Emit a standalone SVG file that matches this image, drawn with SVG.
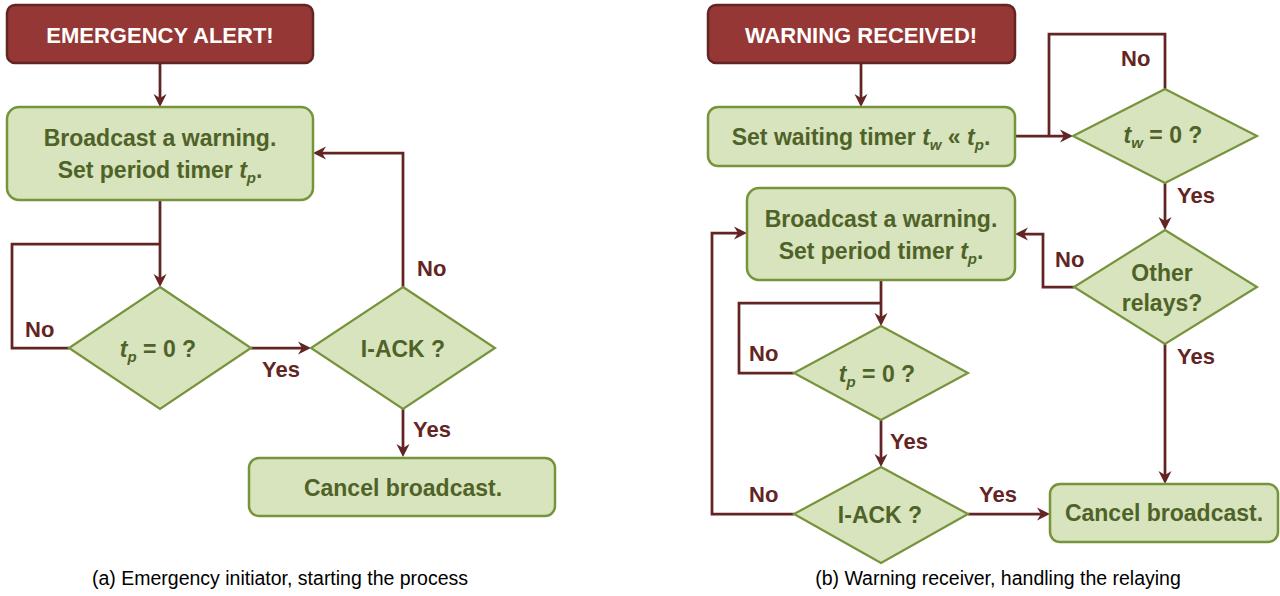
<svg xmlns="http://www.w3.org/2000/svg" width="1280" height="596" viewBox="0 0 1280 596">
<style>
.hdr{fill:#953735;stroke:#632523;stroke-width:2.5}
.box{fill:#d7e4bd;stroke:#77933c;stroke-width:2.5}
.dia{fill:#d7e4bd;stroke:#77933c;stroke-width:2.2}
.ht{font-family:"Liberation Sans",Arial,sans-serif;font-weight:bold;font-size:22px;fill:#ffffff;text-anchor:middle}
.bt{font-family:"Liberation Sans",Arial,sans-serif;font-weight:bold;font-size:23px;fill:#4f6228;text-anchor:middle}
.lb{font-family:"Liberation Sans",Arial,sans-serif;font-weight:bold;font-size:22px;fill:#632523}
.cap{font-family:"Liberation Sans",Arial,sans-serif;font-size:19.5px;fill:#000000;text-anchor:middle}
.it{font-style:italic}
.sub{font-style:italic;font-size:15px}
.con{fill:none;stroke:#632523;stroke-width:2.75}
</style>
<defs>
<marker id="ah" markerUnits="userSpaceOnUse" markerWidth="16" markerHeight="16" refX="9" refY="6.5" orient="auto" overflow="visible">
<path d="M0,0 L13,6.5 L0,13 L4,6.5 z" fill="#632523"/>
</marker>
</defs>

<g id="connectors">
<path class="con" marker-end="url(#ah)" d="M160,63 L160,103"/>
<path class="con" marker-end="url(#ah)" d="M160,200 L160,283"/>
<path class="con" d="M69,348 L12,348 L12,244 L160,244"/>
<path class="con" marker-end="url(#ah)" d="M251,348 L307,348"/>
<path class="con" marker-end="url(#ah)" d="M403,287 L403,153 L317,153"/>
<path class="con" marker-end="url(#ah)" d="M403,409 L403,453"/>

<path class="con" marker-end="url(#ah)" d="M861,63 L861,103"/>
<path class="con" marker-end="url(#ah)" d="M1015,136 L1069,136"/>
<path class="con" d="M1165,89 L1165,34 L1049,34 L1049,136"/>
<path class="con" marker-end="url(#ah)" d="M1165,183 L1165,226"/>
<path class="con" marker-end="url(#ah)" d="M1074,287 L1043,287 L1043,234 L1019,234"/>
<path class="con" marker-end="url(#ah)" d="M1165,344 L1165,480"/>
<path class="con" marker-end="url(#ah)" d="M881,280 L881,322"/>
<path class="con" d="M794,373 L739,373 L739,303 L881,303"/>
<path class="con" marker-end="url(#ah)" d="M881,420 L881,463"/>
<path class="con" marker-end="url(#ah)" d="M794,514 L712,514 L712,233 L743,233"/>
<path class="con" marker-end="url(#ah)" d="M968,514 L1046,514"/>
</g>

<g id="labels">
<text class="lb" x="25" y="337">No</text>
<text class="lb" x="262" y="377">Yes</text>
<text class="lb" x="417" y="276">No</text>
<text class="lb" x="413" y="437">Yes</text>
<text class="lb" x="1121" y="66">No</text>
<text class="lb" x="1177" y="203">Yes</text>
<text class="lb" x="1055" y="267">No</text>
<text class="lb" x="1177" y="364">Yes</text>
<text class="lb" x="749" y="361">No</text>
<text class="lb" x="890" y="449">Yes</text>
<text class="lb" x="749" y="502">No</text>
<text class="lb" x="979" y="502">Yes</text>
</g>

<g id="emergency-alert">
<rect class="hdr" x="7" y="5" width="306" height="58" rx="8"/>
<text class="ht" x="160" y="43">EMERGENCY ALERT!</text>
</g>
<g id="broadcast-a">
<rect class="box" x="7" y="107" width="306" height="93" rx="12"/>
<text class="bt" x="160" y="146">Broadcast a warning.</text>
<text class="bt" x="160" y="178">Set period timer <tspan class="it">t</tspan><tspan class="sub" dy="5">p</tspan><tspan dy="-5">.</tspan></text>
</g>
<g id="tp-check-a">
<polygon class="dia" points="160,287 251,348 160,409 69,348"/>
<text class="bt" x="158" y="357"><tspan class="it">t</tspan><tspan class="sub" dy="5">p</tspan><tspan dy="-5"> = 0 ?</tspan></text>
</g>
<g id="iack-a">
<polygon class="dia" points="403,287 495,348 403,409 311,348"/>
<text class="bt" x="403" y="357">I-ACK ?</text>
</g>
<g id="cancel-a">
<rect class="box" x="249" y="458" width="306" height="58" rx="10"/>
<text class="bt" x="403" y="496">Cancel broadcast.</text>
</g>

<g id="warning-received">
<rect class="hdr" x="708" y="5" width="307" height="58" rx="8"/>
<text class="ht" x="861" y="43">WARNING RECEIVED!</text>
</g>
<g id="set-waiting">
<rect class="box" x="708" y="107" width="307" height="59" rx="10"/>
<text class="bt" x="861" y="145">Set waiting timer <tspan class="it">t</tspan><tspan class="sub" dy="5">w</tspan><tspan dy="-5"> « </tspan><tspan class="it">t</tspan><tspan class="sub" dy="5">p</tspan><tspan dy="-5">.</tspan></text>
</g>
<g id="tw-check">
<polygon class="dia" points="1165,89 1257,136 1165,183 1073,136"/>
<text class="bt" x="1163" y="143"><tspan class="it">t</tspan><tspan class="sub" dy="5">w</tspan><tspan dy="-5"> = 0 ?</tspan></text>
</g>
<g id="other-relays">
<polygon class="dia" points="1165,230 1257,287 1165,344 1074,287"/>
<text class="bt" x="1162" y="281">Other</text>
<text class="bt" x="1162" y="311">relays?</text>
</g>
<g id="broadcast-b">
<rect class="box" x="747" y="188" width="268" height="92" rx="12"/>
<text class="bt" x="881" y="227">Broadcast a warning.</text>
<text class="bt" x="881" y="259">Set period timer <tspan class="it">t</tspan><tspan class="sub" dy="5">p</tspan><tspan dy="-5">.</tspan></text>
</g>
<g id="tp-check-b">
<polygon class="dia" points="881,326 968,373 881,420 794,373"/>
<text class="bt" x="877" y="382"><tspan class="it">t</tspan><tspan class="sub" dy="5">p</tspan><tspan dy="-5"> = 0 ?</tspan></text>
</g>
<g id="iack-b">
<polygon class="dia" points="881,467 968,514 881,563 794,514"/>
<text class="bt" x="880" y="523">I-ACK ?</text>
</g>
<g id="cancel-b">
<rect class="box" x="1050" y="484" width="228" height="58" rx="10"/>
<text class="bt" x="1164" y="521">Cancel broadcast.</text>
</g>

<g id="captions">
<text class="cap" x="280" y="585">(a) Emergency initiator, starting the process</text>
<text class="cap" x="998" y="585">(b) Warning receiver, handling the relaying</text>
</g>
</svg>
